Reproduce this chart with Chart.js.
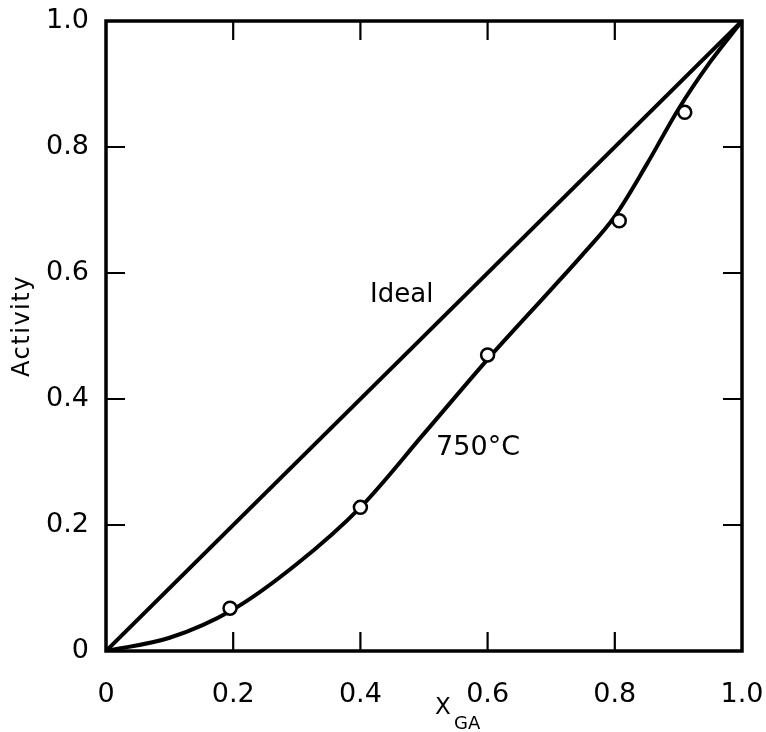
<!DOCTYPE html>
<html lang="en">
<head>
    <meta charset="UTF-8">
    <title>Activity vs X_GA</title>
    <script src="https://cdn.jsdelivr.net/npm/chart.js"></script>
    <style>
        html, body { margin: 0; padding: 0; background: #fff; }
        #wrap { width: 766px; height: 732px; }
    </style>
</head>
<body>
    <div id="wrap"><canvas id="chart" width="766" height="732"></canvas></div>

    <script>
        // axis ticks
        const tickValues = [0, 0.2, 0.4, 0.6, 0.8, 1.0];
        const innerTicks = [0.2, 0.4, 0.6, 0.8];

        // ideal (Raoult) line
        const idealX = [0, 1];
        const idealY = [0, 1];

        // smooth curve at 750 C
        const curveX = [0, 0.1, 0.2, 0.3, 0.4, 0.5, 0.6, 0.7, 0.75, 0.8, 0.85, 0.9, 0.95, 1.0];
        const curveY = [0, 0.021, 0.066, 0.138, 0.228, 0.345, 0.463, 0.574, 0.63, 0.69, 0.772, 0.86, 0.935, 1.0];

        // measured points (open circles)
        const measX = [0.195, 0.4, 0.6, 0.807, 0.91];
        const measY = [0.068, 0.228, 0.47, 0.683, 0.855];

        // text labels inside the plot (data coords)
        const idealLabel = { text: 'Ideal', x: 0.465, y: 0.565 };
        const tempLabel = { text: '750°C', x: 0.585, y: 0.323 };

        const toPts = (xs, ys) => xs.map((v, i) => ({ x: v, y: ys[i] }));

        Chart.defaults.font.family = '"DejaVu Sans", sans-serif';
        Chart.defaults.color = '#000';

        const framePlugin = {
            id: 'frame',
            afterDatasetsDraw(chart) {
                const { ctx, chartArea: a, scales: { x, y } } = chart;
                ctx.save();
                ctx.strokeStyle = '#000';
                ctx.lineWidth = 3.5;
                ctx.strokeRect(a.left, a.top, a.right - a.left, a.bottom - a.top);

                // inward tick marks on all four sides
                const len = 19;
                ctx.lineWidth = 2.2;
                ctx.beginPath();
                innerTicks.forEach(v => {
                    const px = x.getPixelForValue(v);
                    ctx.moveTo(px, a.bottom); ctx.lineTo(px, a.bottom - len);
                    ctx.moveTo(px, a.top); ctx.lineTo(px, a.top + len);
                    const py = y.getPixelForValue(v);
                    ctx.moveTo(a.left, py); ctx.lineTo(a.left + len, py);
                    ctx.moveTo(a.right, py); ctx.lineTo(a.right - len, py);
                });
                ctx.stroke();

                // in-plot labels
                ctx.fillStyle = '#000';
                ctx.textAlign = 'center';
                ctx.textBaseline = 'middle';
                ctx.font = '26px "DejaVu Sans"';
                ctx.fillText(idealLabel.text, x.getPixelForValue(idealLabel.x), y.getPixelForValue(idealLabel.y));
                ctx.font = '27px "DejaVu Sans"';
                ctx.fillText(tempLabel.text, x.getPixelForValue(tempLabel.x), y.getPixelForValue(tempLabel.y));

                // x title: X with subscript GA
                ctx.textAlign = 'left';
                ctx.textBaseline = 'alphabetic';
                ctx.font = '23px "DejaVu Sans"';
                ctx.fillText('X', 435, 714);
                ctx.font = '18px "DejaVu Sans"';
                ctx.fillText('GA', 454, 729);

                // y title
                ctx.translate(29, 326);
                ctx.rotate(-Math.PI / 2);
                ctx.textAlign = 'center';
                ctx.font = '24px "DejaVu Sans"';
                ctx.letterSpacing = '1.5px';
                ctx.fillText('Activity', 0, 0);
                ctx.restore();
            }
        };

        const fmt = v => (v === 0 ? '0' : v.toFixed(1));
        const noPad = s => { s.paddingLeft = 0; s.paddingRight = 0; s.paddingTop = 0; s.paddingBottom = 0; };

        new Chart(document.getElementById('chart'), {
            type: 'scatter',
            data: {
                datasets: [
                    {
                        label: 'measured',
                        data: toPts(measX, measY),
                        pointStyle: 'circle',
                        pointRadius: 6.5,
                        pointBorderWidth: 2.5,
                        pointBackgroundColor: '#fff',
                        pointBorderColor: '#000',
                        showLine: false,
                        order: 0
                    },
                    {
                        label: '750°C',
                        data: toPts(curveX, curveY),
                        showLine: true,
                        borderColor: '#000',
                        borderWidth: 4,
                        pointRadius: 0,
                        cubicInterpolationMode: 'monotone',
                        order: 1
                    },
                    {
                        label: 'Ideal',
                        data: toPts(idealX, idealY),
                        showLine: true,
                        borderColor: '#000',
                        borderWidth: 4,
                        pointRadius: 0,
                        order: 2
                    }
                ]
            },
            options: {
                responsive: false,
                animation: false,
                layout: { padding: { top: 21, right: 24, left: 0, bottom: 0 } },
                plugins: { legend: { display: false }, tooltip: { enabled: false } },
                scales: {
                    x: {
                        type: 'linear', min: 0, max: 1,
                        grid: { display: false },
                        border: { display: false },
                        afterBuildTicks: s => { s.ticks = tickValues.map(v => ({ value: v })); },
                        afterFit: s => { s.height = 81; noPad(s); },
                        ticks: { font: { size: 27 }, padding: 20, maxRotation: 0, callback: fmt }
                    },
                    y: {
                        type: 'linear', min: 0, max: 1,
                        grid: { display: false },
                        border: { display: false },
                        afterBuildTicks: s => { s.ticks = tickValues.map(v => ({ value: v })); },
                        afterFit: s => { s.width = 106; noPad(s); },
                        ticks: { font: { size: 27 }, padding: 9, callback: fmt }
                    }
                }
            },
            plugins: [framePlugin]
        });
    </script>
</body>
</html>
